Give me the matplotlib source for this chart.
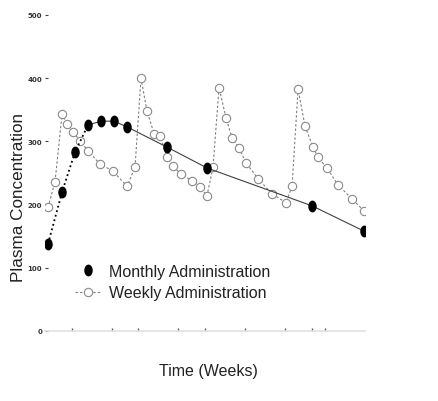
import numpy as np
import matplotlib
matplotlib.use("Agg")
import matplotlib.pyplot as plt
from matplotlib.lines import Line2D
from matplotlib.path import Path
from matplotlib.transforms import Affine2D

plt.rcParams['font.family'] = ['Liberation Sans', 'DejaVu Sans']

# ---------------- data ----------------
monthly_weeks = [0.23, 1.28, 2.25, 3.23, 4.2, 5.18, 6.15, 9.15, 12.15, 20.03, 23.93]
monthly_conc = [138, 220, 283, 326, 332, 332, 323, 291, 258, 198, 158]

weekly_weeks = [0.23, 0.75, 1.28, 1.65, 2.1, 2.63, 3.23, 4.13, 5.1, 6.15, 6.75,
                7.2, 7.65, 8.18, 8.63, 9.15, 9.6, 10.2, 11.03, 11.63, 12.15, 12.6,
                13.05, 13.58, 14.03, 14.55, 15.08, 15.98, 17.03, 18.08, 18.53,
                18.98, 19.5, 20.1, 20.48, 21.15, 21.98, 23.03, 23.93]
weekly_conc = [196, 236, 343, 328, 315, 301, 285, 264, 253, 229, 259,
               400, 348, 312, 309, 275, 261, 248, 238, 228, 214, 259,
               385, 337, 305, 290, 266, 241, 217, 203, 229,
               383, 324, 291, 275, 258, 231, 209, 190]

y_ticks = [0, 100, 200, 300, 400, 500]
x_ticks = [2, 5, 7, 10, 12, 15, 18, 20, 21]

# tall oval marker for the monthly series
oval = Path.unit_circle().transformed(Affine2D().scale(0.68, 1.0))

# ---------------- figure ----------------
W, H = 439, 402
fig = plt.figure(figsize=(W / 100, H / 100), dpi=100)
ax = fig.add_axes([45 / W, (H - 332) / H, 320 / W, 316 / H])

# weekly series: grey dashed line, open circles
ax.plot(weekly_weeks, weekly_conc, color='#808080', lw=0.8,
        linestyle=(0, (2.2, 1.8)), marker='o', markersize=6,
        markerfacecolor='white', markeredgecolor='#8a8a8a',
        markeredgewidth=0.8, zorder=2)

# monthly series: dotted start, thin solid after
ax.plot(monthly_weeks[:4], monthly_conc[:4], color='black', lw=1.3,
        linestyle=(0, (1, 1.6)), zorder=3)
ax.plot(monthly_weeks[3:], monthly_conc[3:], color='#404040', lw=0.8,
        linestyle='-', zorder=3)
ax.plot(monthly_weeks, monthly_conc, linestyle='none', marker=oval,
        markersize=7.5, color='black', zorder=4)

ax.set_xlim(0, 24)
ax.set_ylim(0, 500)

for s in ['top', 'right', 'left']:
    ax.spines[s].set_visible(False)
ax.spines['bottom'].set_color('#e2e2e2')
ax.spines['bottom'].set_linewidth(1.2)

ax.set_yticks(y_ticks)
ax.set_yticklabels([str(v) for v in y_ticks], fontsize=5,
                   fontweight='bold', color='#333333',
                   family=['DejaVu Sans'])
ax.tick_params(axis='y', direction='in', length=2.5, width=0.8,
               color='#444444', pad=2)
ax.set_xticks(x_ticks)
ax.set_xticklabels([])
ax.tick_params(axis='x', direction='in', length=2, width=1.0,
               color='#555555')

ax.set_xlabel('Time (Weeks)', fontsize=11.5, color='#222222')
ax.xaxis.set_label_coords((208 - 45) / 320, (332 - 372) / 316)
ax.set_ylabel('Plasma Concentration', fontsize=12.3, color='#222222')
ax.yaxis.set_label_coords((19 - 45) / 320, (332 - 198) / 316)
ax.xaxis.label.set_va('center')
ax.yaxis.label.set_va('center')

handles = [
    Line2D([], [], linestyle='none', marker=oval, markersize=7.5,
           color='black'),
    Line2D([], [], color='#808080', lw=0.8, linestyle=(0, (2.2, 1.8)),
           marker='o', markersize=6, markerfacecolor='white',
           markeredgecolor='#8a8a8a', markeredgewidth=0.8),
]
labels = ['Monthly Administration', 'Weekly Administration']
fig.legend(handles, labels, loc='upper left',
           bbox_to_anchor=(75 / W, (H - 265) / H), frameon=False,
           fontsize=11.5, handlelength=1.6, handletextpad=0.5,
           labelspacing=0.4, borderpad=0, borderaxespad=0,
           numpoints=1, labelcolor='#222222')

fig.savefig('out.png', dpi=100, facecolor='white')
